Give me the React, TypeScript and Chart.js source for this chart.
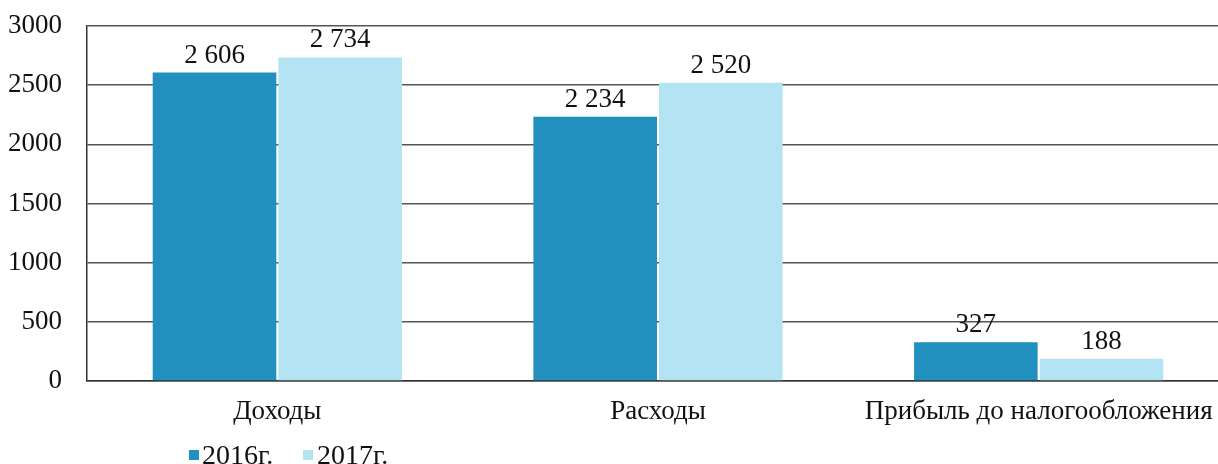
import React, { useEffect, useRef } from "react";
import { Chart, registerables } from "chart.js";

Chart.register(...registerables);

const categories = ["Доходы", "Расходы", "Прибыль до налогообложения"];
const seriesNames = ["2016г.", "2017г."];
const values2016 = [2606, 2234, 327];
const values2017 = [2734, 2520, 188];
const yTicks = [0, 500, 1000, 1500, 2000, 2500, 3000];

const COLORS = ["#2290be", "#b4e4f4"];
const FONT = "'Liberation Serif', 'DejaVu Serif', serif";

const fmt = (v: number) => String(v).replace(/\B(?=(\d{3})+(?!\d))/g, " ");

const labelsPlugin = {
  id: "valueLabels",
  afterDatasetsDraw(chart: any) {
    const ctx = chart.ctx;
    ctx.save();
    ctx.font = `27px ${FONT}`;
    ctx.fillStyle = "#111";
    ctx.textAlign = "center";
    ctx.textBaseline = "alphabetic";
    chart.data.datasets.forEach((ds: any, i: number) => {
      const meta = chart.getDatasetMeta(i);
      meta.data.forEach((bar: any, j: number) => {
        ctx.fillText(fmt(ds.data[j]), bar.x, bar.y - 10);
      });
    });
    ctx.restore();
  },
};

const legendPlugin = {
  id: "customLegend",
  afterDraw(chart: any) {
    const ctx = chart.ctx;
    ctx.save();
    ctx.font = `28px ${FONT}`;
    ctx.textBaseline = "alphabetic";
    ctx.textAlign = "left";
    const items = [
      { x: 189, tx: 202 },
      { x: 303, tx: 317 },
    ];
    chart.data.datasets.forEach((ds: any, i: number) => {
      const it = items[i];
      ctx.fillStyle = ds.backgroundColor;
      ctx.fillRect(it.x, 450, 10, 10);
      ctx.fillStyle = "#111";
      ctx.fillText(ds.label, it.tx, 464);
    });
    ctx.restore();
  },
};

export default function App() {
  const ref = useRef<HTMLCanvasElement>(null);
  useEffect(() => {
    document.body.style.overflow = "hidden";
    const chart = new Chart(ref.current!, {
      type: "bar",
      data: {
        labels: categories,
        datasets: [
          { label: seriesNames[0], data: values2016, backgroundColor: COLORS[0] },
          { label: seriesNames[1], data: values2017, backgroundColor: COLORS[1] },
        ],
      },
      options: {
        animation: false,
        responsive: false,
        maintainAspectRatio: false,
        layout: { padding: { top: 26, right: 0, left: 0, bottom: 0 } },
        datasets: { bar: { categoryPercentage: 0.66, barPercentage: 0.984 } },
        plugins: { legend: { display: false }, tooltip: { enabled: false } },
        scales: {
          x: {
            grid: { display: false, drawTicks: false },
            border: { color: "#333", width: 1.5 },
            ticks: { color: "#111", font: { family: FONT, size: 27 }, padding: 15, maxRotation: 0 },
            afterFit(scale: any) {
              scale.height = 83;
              scale.paddingLeft = 0;
              scale.paddingRight = 0;
            },
          },
          y: {
            min: 0,
            max: 3000,
            afterBuildTicks(scale: any) {
              scale.ticks = yTicks.map((v) => ({ value: v }));
            },
            grid: { color: "#555", lineWidth: 1.5, drawTicks: false },
            border: { color: "#333", width: 1.5 },
            ticks: {
              color: "#111",
              font: { family: FONT, size: 27 },
              padding: 25,
              callback: (v: any) => String(v),
            },
            afterFit(scale: any) {
              scale.width = 87;
              scale.paddingTop = 0;
              scale.paddingBottom = 0;
            },
          },
        },
      },
      plugins: [labelsPlugin, legendPlugin],
    });
    return () => chart.destroy();
  }, []);
  return (
    <div style={{ position: "fixed", left: 0, top: 0, width: 1229, height: 464 }}>
      <canvas ref={ref} width={1229} height={464} style={{ width: 1229, height: 464 }} />
    </div>
  );
}
